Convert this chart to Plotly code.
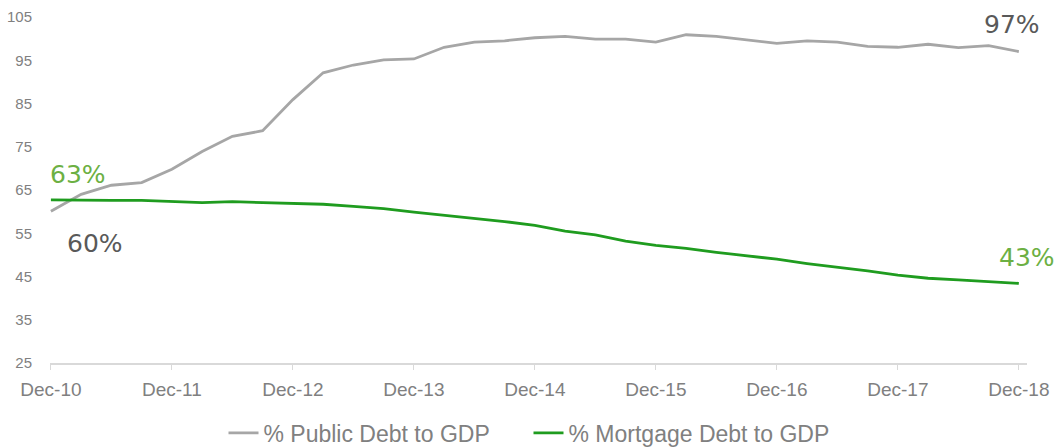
import plotly.graph_objects as go

# Quarter labels, Dec-10 through Dec-18
months = ["Mar", "Jun", "Sep", "Dec"]
quarters = ["Dec-10"] + [f"{m}-{y}" for y in range(11, 19) for m in months]
year_ticks = [f"Dec-{y}" for y in range(10, 19)]

public_debt = [60.1, 64.0, 66.1, 66.7, 69.8, 73.9, 77.4, 78.7, 85.9, 92.1, 93.9,
               95.1, 95.3, 98.0, 99.2, 99.5, 100.2, 100.5, 99.9, 99.9, 99.2,
               100.9, 100.5, 99.7, 98.9, 99.5, 99.2, 98.2, 98.0, 98.7, 97.9,
               98.4, 97.0]
mortgage_debt = [62.7, 62.6, 62.6, 62.6, 62.3, 62.1, 62.3, 62.1, 61.8, 61.7, 61.2,
                 60.7, 59.9, 59.2, 58.5, 57.7, 56.8, 55.5, 54.6, 53.2, 52.2,
                 51.5, 50.6, 49.8, 49.0, 48.0, 47.2, 46.3, 45.3, 44.6, 44.2,
                 43.8, 43.4]

GREY = "#a6a6a6"
GREEN = "#1f9c1f"
LABEL_GREEN = "#6cb043"
DARK = "#595959"
AXIS_TXT = "#808080"

fig = go.Figure()
fig.add_trace(go.Scatter(x=quarters, y=public_debt, mode="lines",
                         name="% Public Debt to GDP",
                         line=dict(color=GREY, width=2.8)))
fig.add_trace(go.Scatter(x=quarters, y=mortgage_debt, mode="lines",
                         name="% Mortgage Debt to GDP",
                         line=dict(color=GREEN, width=2.8)))

def pct(v):
    return f"{round(v)}%"

label_font = dict(family="DejaVu Sans", size=25)
fig.add_annotation(x=quarters[0], y=mortgage_debt[0], text=pct(mortgage_debt[0]),
                   showarrow=False, xanchor="left", yanchor="bottom",
                   xshift=-3, yshift=9, font=dict(color=LABEL_GREEN, **label_font))
fig.add_annotation(x=quarters[0], y=public_debt[0], text=pct(public_debt[0]),
                   showarrow=False, xanchor="left", yanchor="top",
                   xshift=14, yshift=-16, font=dict(color=DARK, **label_font))
fig.add_annotation(x=quarters[-1], y=public_debt[-1], text=pct(public_debt[-1]),
                   showarrow=False, xanchor="center", yanchor="bottom",
                   xshift=-7, yshift=11, font=dict(color=DARK, **label_font))
fig.add_annotation(x=quarters[-1], y=mortgage_debt[-1], text=pct(mortgage_debt[-1]),
                   showarrow=False, xanchor="center", yanchor="bottom",
                   xshift=8, yshift=9, font=dict(color=LABEL_GREEN, **label_font))

fig.update_layout(
    width=1057, height=447,
    margin=dict(l=50, r=30, t=17, b=84, autoexpand=False),
    paper_bgcolor="white", plot_bgcolor="white",
    showlegend=True,
    legend=dict(orientation="h", xref="container", x=0.5, xanchor="center",
                yref="container", y=(447 - 433) / 447, yanchor="middle",
                font=dict(family="Liberation Sans", size=23, color=AXIS_TXT),
                itemwidth=30, entrywidth=260, entrywidthmode="pixels",
                traceorder="normal"),
    xaxis=dict(type="category", range=[-0.03, 32.27], automargin=False,
               tickmode="array", tickvals=year_ticks, ticktext=year_ticks,
               showgrid=False, zeroline=False,
               showline=True, linecolor="#d9d9d9", linewidth=1.5,
               ticks="outside", ticklen=5, tickcolor="#d9d9d9",
               ticklabelstandoff=3,
               tickfont=dict(family="Liberation Sans", size=19, color=AXIS_TXT)),
    yaxis=dict(range=[25, 105], tickmode="array", tickvals=list(range(25, 106, 10)),
               automargin=False,
               showgrid=False, zeroline=False, showline=False,
               ticks="", ticklabelstandoff=17,
               tickfont=dict(family="Liberation Sans", size=15, color=AXIS_TXT)),
)

fig.write_html("out.html")
